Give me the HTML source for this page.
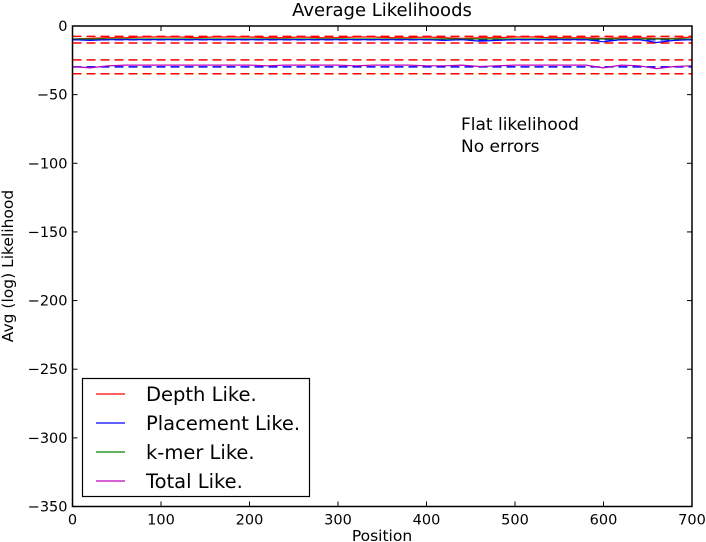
<!DOCTYPE html>
<html><head><meta charset="utf-8"><style>
body{margin:0;background:#fff;}
svg{display:block;font-family:"DejaVu Sans","Liberation Sans",sans-serif;}
</style></head><body>
<svg id="c" width="706" height="542"></svg>
<script>
const positions=[0,20,40,60,80,100,120,140,160,180,200,220,240,260,280,300,320,340,360,380,400,420,440,460,480,500,520,540,560,580,600,620,640,660,680,700];
const depthVals=[-9.5,-9,-8.5,-8.5,-8,-8,-8,-8.5,-8,-8,-8,-8.5,-8.5,-8,-8.5,-8.5,-8,-8,-8.5,-8.5,-8,-8.5,-9,-8.5,-8.5,-8,-8,-8.5,-8.5,-8.5,-9,-8.5,-8.5,-9,-9,-8];
const placementVals=[-10,-10.5,-10,-10,-10,-10,-10,-10,-10,-10,-10,-10,-10,-10,-10,-10,-10,-10,-10,-10,-10,-10.5,-10,-11,-10.5,-10,-10,-10,-10,-10,-11.5,-10,-10,-12,-10.5,-10];
const kmerVals=[-9.5,-9.5,-9.5,-9.5,-9.5,-9.5,-9.5,-9.5,-9.5,-9.5,-9.5,-9.5,-9.5,-9.5,-9.5,-9.5,-9.5,-9.5,-9.5,-9.5,-9.5,-9.5,-9.5,-9.5,-9.5,-9.5,-9.5,-9.5,-9.5,-9.5,-9.5,-9.5,-9.5,-9.5,-9.5,-9.5];
const totalVals=[-29.5,-30.5,-29,-28.5,-28.5,-28.5,-28.5,-28.5,-28.5,-28.5,-28.5,-29,-28.5,-28.5,-28.5,-28.5,-29,-28.5,-28.5,-28.5,-29,-29,-28.5,-29.5,-29,-28.5,-28.5,-28.5,-28.5,-28.5,-30.5,-28.5,-29,-31,-29.5,-29];
const refLines=[{v:-7.6,c:"red"},{v:-12.4,c:"red"},{v:-10,c:"blue"},{v:-24.7,c:"red"},{v:-34.8,c:"red"},{v:-29.8,c:"blue"}];
const xTicks=[0,100,200,300,400,500,600,700];
const yTicks=[0,-50,-100,-150,-200,-250,-300,-350];
const L=72.5,R=692,T=26,B=506.5;
const xs=v=>L+(v-0)/700*(R-L);
const ys=v=>T+(0-v)/350*(B-T);
const svg=document.getElementById('c');
const NS="http://www.w3.org/2000/svg";
function mk(tag,at,parent){const e=document.createElementNS(NS,tag);for(const k in at)e.setAttribute(k,at[k]);(parent||svg).appendChild(e);return e;}
let t=mk('text',{x:382,y:16,'text-anchor':'middle','font-size':18});t.textContent="Average Likelihoods";

refLines.forEach(r=>{const e=mk('line',{x1:L,x2:R,y1:ys(r.v),y2:ys(r.v),stroke:r.c,'stroke-width':1.5,'stroke-dasharray':'9,5'});
});
function series(vals,col,name){const d=vals.map((v,i)=>(i?'L':'M')+xs(positions[i]).toFixed(1)+','+ys(v).toFixed(1)).join('');
const e=mk('path',{d:d,fill:'none',stroke:col,'stroke-width':1.2});}
series(depthVals,'red','depth-line');series(kmerVals,'green','kmer-line');series(placementVals,'blue','placement-line');series(totalVals,'#bf00bf','total-line');
const fr=mk('rect',{x:L,y:T,width:R-L,height:B-T,fill:'none',stroke:'#000','stroke-width':1.5});

xTicks.forEach(v=>{const x=xs(v);mk('line',{x1:x,x2:x,y1:B,y2:B-5,stroke:'#000'});mk('line',{x1:x,x2:x,y1:T,y2:T+5,stroke:'#000'});
const e=mk('text',{x:x,y:B+18,'text-anchor':'middle','font-size':14.5});e.textContent=v;});
yTicks.forEach(v=>{const y=ys(v);mk('line',{x1:L,x2:L+5,y1:y,y2:y,stroke:'#000'});mk('line',{x1:R,x2:R-5,y1:y,y2:y,stroke:'#000'});
const e=mk('text',{x:L-5,y:y+5,'text-anchor':'end','font-size':14.5});e.textContent=v<0?'\u2212'+(-v):v;});
t=mk('text',{x:382,y:541,'text-anchor':'middle','font-size':15.5});t.textContent="Position";
t=mk('text',{x:13,y:266,'text-anchor':'middle','font-size':15.5,transform:'rotate(-90 13 266)'});t.textContent="Avg (log) Likelihood";
t=mk('text',{x:461,y:130,'font-size':17});t.textContent="Flat likelihood";
t=mk('text',{x:461,y:152,'font-size':17});t.textContent="No errors";
const lg=mk('g',{});
mk('rect',{x:82.5,y:378.5,width:227,height:118,fill:'#fff',stroke:'#000','stroke-width':1.2},lg);
const legendNames=["Depth Like.","Placement Like.","k-mer Like.","Total Like."];
const legendCols=['red','blue','green','#bf00bf'];
legendNames.forEach((n,i)=>{const y=394+i*29;mk('line',{x1:96,x2:125,y1:y,y2:y,stroke:legendCols[i],'stroke-width':1.2},lg);
const e=mk('text',{x:146,y:y+7,'font-size':19.5},lg);e.textContent=n;});
</script>
</body></html>
